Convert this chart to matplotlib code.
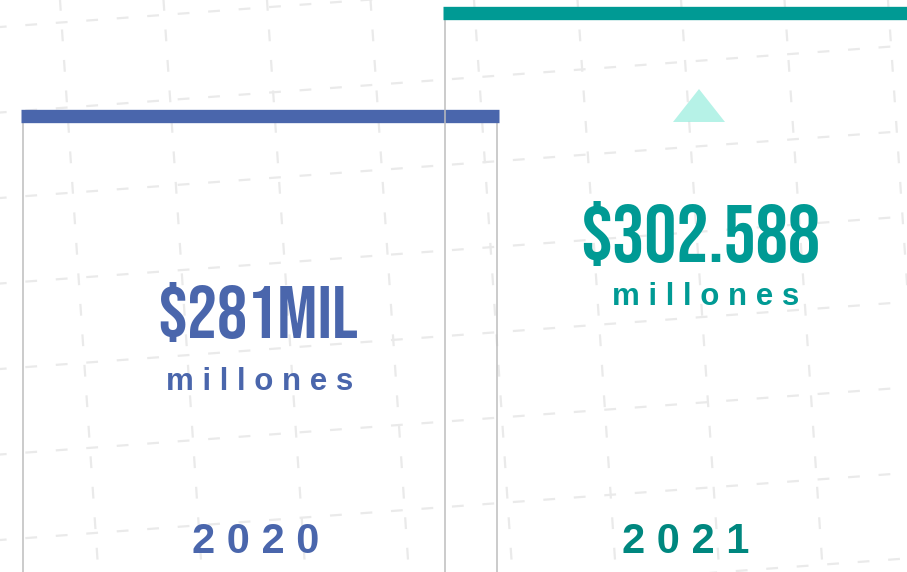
import matplotlib
matplotlib.use("Agg")
import matplotlib.pyplot as plt
import numpy as np
from matplotlib.patches import Polygon

# data
years = ["2020", "2021"]
values = [281.0, 302.588]
value_labels = ["$281MIL", "$302.588"]
unit_label = "millones"

BLUE = "#4A66AC"
TEAL = "#009A94"
TEAL_DK = "#00877F"
GRID = "#EAEAEA"
EDGE = "#BDBDBD"
BIG = ["Bebas Neue", "Oswald", "DejaVu Sans"]
SMALL = ["Liberation Sans", "DejaVu Sans"]

plt.rcParams["lines.scale_dashes"] = False

fig = plt.figure(figsize=(9.07, 5.72), dpi=100)

# background: faint, slightly rotated dashed grid (pixel coords, y down)
bg = fig.add_axes([0, 0, 1, 1])
bg.set_xlim(0, 907); bg.set_ylim(572, 0); bg.axis("off")
t = np.array([-100.0, 700.0])
for k in range(-1, 10):
    bg.plot(60 + 103.5 * k + 0.067 * t, t, color=GRID, lw=1.6, ls=(0, (8.5, 13.5)), zorder=0)
tx = np.array([-50.0, 960.0])
for j in range(0, 9):
    bg.plot(tx, 27 + 85.5 * j - 0.074 * tx, color=GRID, lw=1.6, ls=(3, (8.5, 13.5)), zorder=0)
# up-arrow triangle
bg.add_patch(Polygon([[673, 122], [725, 122], [699, 89]], closed=True, fc="#9EEEE0", ec="none", alpha=0.75, zorder=1))

# main chart
ax = fig.add_axes([0, 0, 1, 1])
ax.patch.set_alpha(0); ax.axis("off")
ax.set_xlim(-0.6161, 1.5332); ax.set_ylim(185.7, 305.24)
x = np.arange(len(years))
W = 1.1232
base = 170
cols = [BLUE, TEAL]
for i in range(len(years)):
    ax.bar(x[i], values[i] - base, bottom=base, width=W, fill=False, edgecolor=EDGE, lw=1.1, zorder=2 * i + 1)
    lc = ax.hlines(values[i], x[i] - W / 2 - 0.004, x[i] + W / 2 + 0.004, colors=cols[i], lw=9.6, zorder=2 * i + 2)
    lc.set_capstyle("butt")

tr = ax.get_xaxis_transform()
# value labels
ax.text(-0.005, 0.409, value_labels[0], transform=tr, ha="center", va="baseline", fontsize=54,
        family=BIG, color=BLUE, zorder=10, parse_math=False)
ax.text(1.0427, 0.542, value_labels[1], transform=tr, ha="center", va="baseline", fontsize=58,
        family=BIG, color=TEAL, zorder=10, parse_math=False)
spaced = " ".join(unit_label)
ax.text(0.0, 0.318, spaced, transform=tr, ha="center", va="baseline", fontsize=22.5,
        fontweight="bold", family=SMALL, color=BLUE, zorder=10)
ax.text(1.055, 0.466, spaced, transform=tr, ha="center", va="baseline", fontsize=22.5,
        fontweight="bold", family=SMALL, color=TEAL, zorder=10)
# year labels
ax.text(-0.0107, 0.033, " ".join(years[0]), transform=tr, ha="center", va="baseline", fontsize=30,
        fontweight="bold", family=SMALL, color=BLUE, zorder=10)
ax.text(1.0095, 0.033, " ".join(years[1]), transform=tr, ha="center", va="baseline", fontsize=30,
        fontweight="bold", family=SMALL, color=TEAL_DK, zorder=10)

fig.savefig("out.png", dpi=100)
